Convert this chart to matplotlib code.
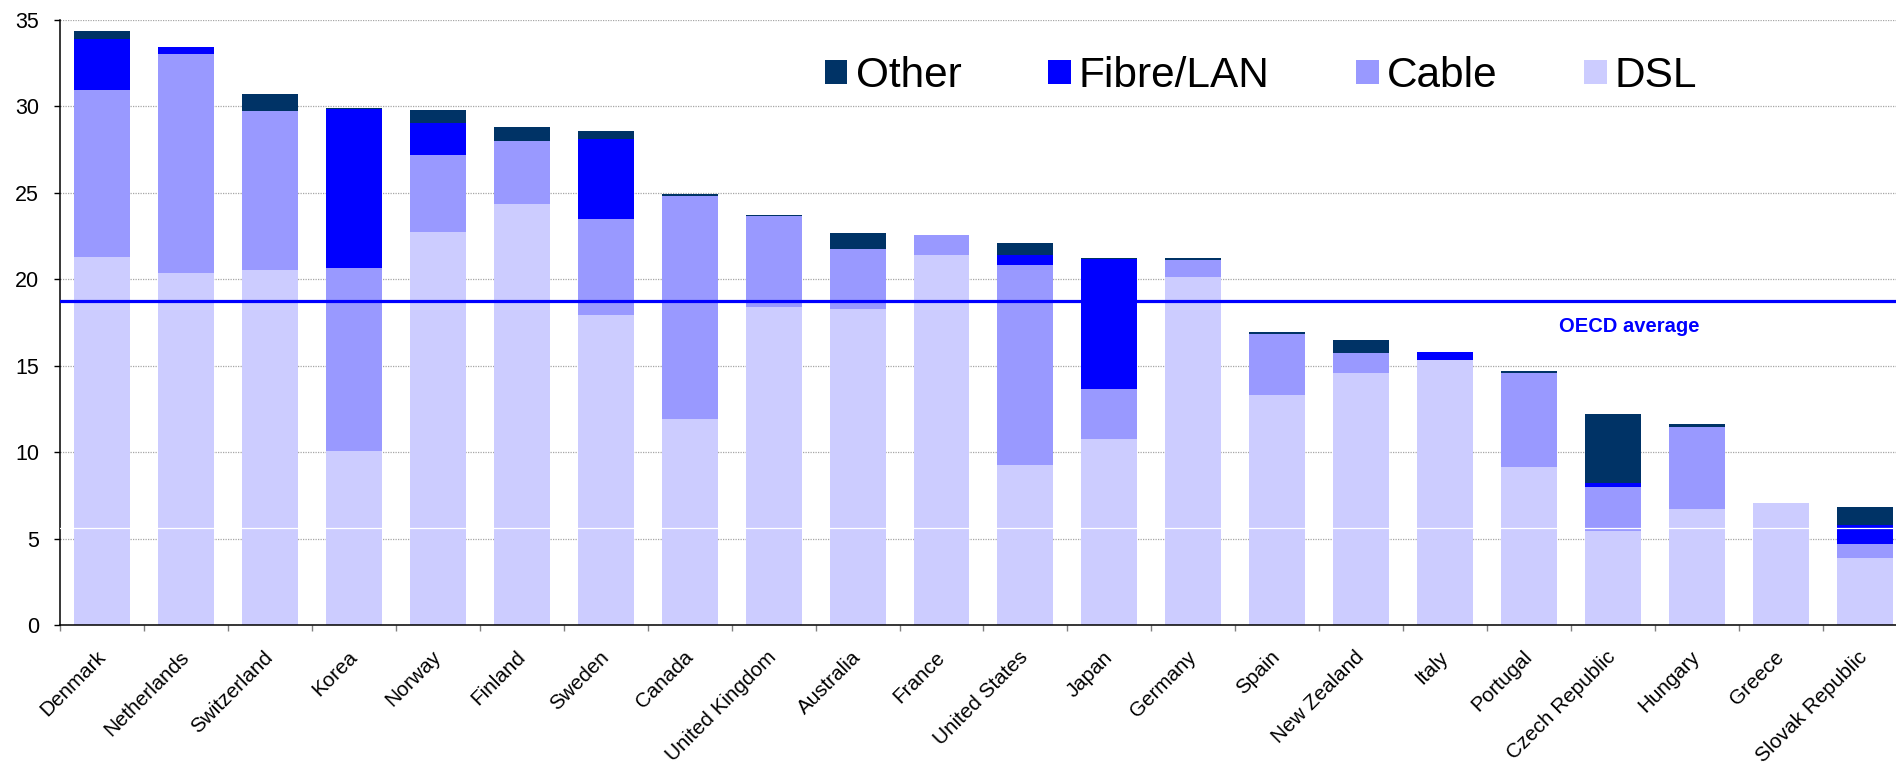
import matplotlib
matplotlib.use("Agg")
import matplotlib.pyplot as plt
import numpy as np

plt.rcParams['font.family'] = ['Liberation Sans', 'DejaVu Sans']

countries = ["Denmark", "Netherlands", "Switzerland", "Korea", "Norway", "Finland",
             "Sweden", "Canada", "United Kingdom", "Australia", "France",
             "United States", "Japan", "Germany", "Spain", "New Zealand", "Italy",
             "Portugal", "Czech Republic", "Hungary", "Greece", "Slovak Republic"]

# Broadband subscribers per 100 inhabitants, by technology
dsl = [21.26, 20.37, 20.54, 10.07, 22.74, 24.36, 17.94, 11.92, 18.40, 18.29, 21.41,
       9.26, 10.76, 20.14, 13.31, 14.58, 15.34, 9.14, 5.44, 6.71, 7.06, 3.88]
cable = [9.70, 12.67, 9.21, 10.59, 4.46, 3.64, 5.56, 12.91, 5.27, 3.47, 1.16,
         11.57, 2.90, 0.98, 3.53, 1.16, 0.00, 5.44, 2.55, 4.75, 0.00, 0.81]
fibre = [2.93, 0.41, 0.00, 9.20, 1.85, 0.00, 4.60, 0.00, 0.00, 0.00, 0.00,
         0.56, 7.50, 0.00, 0.00, 0.00, 0.46, 0.00, 0.23, 0.00, 0.00, 1.10]
other = [0.49, 0.00, 0.98, 0.06, 0.75, 0.82, 0.49, 0.11, 0.06, 0.93, 0.00,
         0.72, 0.08, 0.12, 0.12, 0.75, 0.00, 0.12, 3.99, 0.17, 0.00, 1.04]

oecd_average = 18.73
yticks = [0, 5, 10, 15, 20, 25, 30, 35]

colors = {"DSL": "#CCCCFF", "Cable": "#9999FF", "Fibre/LAN": "#0000FF", "Other": "#003366"}

fig = plt.figure(figsize=(18.96, 7.68), dpi=100)
ax = fig.add_axes([0.0318, 0.1862, 0.9738, 0.7878])

x = np.arange(len(countries))
w = 0.667
bottom = np.zeros(len(countries))
handles = {}
for name, vals in [("DSL", dsl), ("Cable", cable), ("Fibre/LAN", fibre), ("Other", other)]:
    vals = np.array(vals)
    handles[name] = ax.bar(x, vals, w, bottom=bottom, color=colors[name],
                           linewidth=0, zorder=2, label=name)
    bottom += vals

ax.axhline(oecd_average, color="#0000FF", lw=2.3, zorder=3)
ax.text(18.2, 17.25, "OECD average", color="#0000FF", fontsize=14.5,
        fontweight="bold", ha="center", va="center", zorder=4)

# thin light seam running across the plot
ax.axhline(5.62, color="white", lw=0.9, zorder=4)

ax.set_xlim(-0.5, len(countries) - 0.5)
ax.set_ylim(0, 35)
ax.set_yticks(yticks)
ax.set_yticklabels([str(v) for v in yticks], fontsize=15.5)
ax.yaxis.grid(True, color="#A6A6A6", linestyle=(0, (1, 1)), linewidth=0.9, zorder=0)
ax.set_axisbelow(True)

ax.set_xticks(x)
ax.set_xticklabels(countries, rotation=45, ha="right", va="center",
                   rotation_mode="anchor", fontsize=14.9)
ax.set_xticks(np.arange(-0.5, len(countries) + 0.5, 1), minor=True)
ax.tick_params(axis="x", which="major", length=0, pad=21)
ax.tick_params(axis="x", which="minor", length=4.3, width=1.0, color="#808080",
               direction="out")
ax.tick_params(axis="y", length=4.3, width=1.0, color="black", direction="out", pad=11)

for s in ["top", "right"]:
    ax.spines[s].set_visible(False)
for s in ["left", "bottom"]:
    ax.spines[s].set_color("black")
    ax.spines[s].set_linewidth(1.1)

order = ["Other", "Fibre/LAN", "Cable", "DSL"]
fig.legend([handles[n] for n in order], order, loc="center left",
           bbox_to_anchor=(825 / 1896, 1 - 76 / 768), ncol=4, frameon=False,
           fontsize=30.5, handlelength=0.53, handleheight=0.47, handletextpad=0.19,
           columnspacing=2.05, borderpad=0, borderaxespad=0)

fig.savefig("out.png", dpi=100)
